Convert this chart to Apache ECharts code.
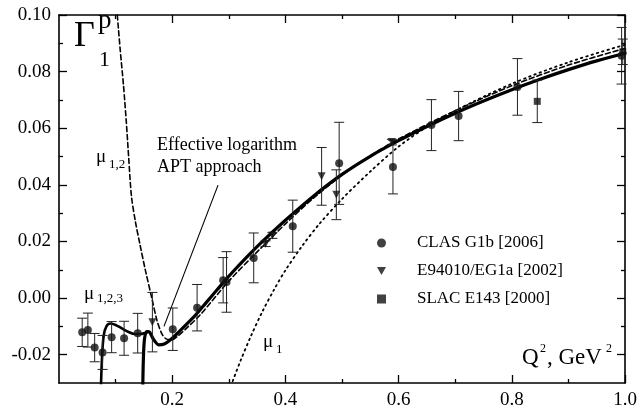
<!DOCTYPE html>
<html>
<head>
<meta charset="utf-8">
<script src="https://cdn.jsdelivr.net/npm/echarts@6/dist/echarts.min.js"></script>
<style>
  html, body { margin: 0; padding: 0; background: #fff; }
  #chart { width: 642px; height: 410px; }
</style>
</head>
<body>
<div id="chart"></div>
<script>
// tick positions
const xMajor = [0.2, 0.4, 0.6, 0.8, 1.0];
const xMinor = [0.1, 0.3, 0.5, 0.7, 0.9];
const yMajor = [-0.02, 0.00, 0.02, 0.04, 0.06, 0.08, 0.10];
const yMinor = [-0.01, 0.01, 0.03, 0.05, 0.07, 0.09];

// data points: [Q2, Gamma1p, error]
const clas = [
  [0.041, -0.0121, 0.0050], [0.051, -0.0113, 0.0060], [0.063, -0.0175, 0.0050],
  [0.077, -0.0192, 0.0060], [0.093, -0.0138, 0.0055], [0.115, -0.0142, 0.0060],
  [0.139, -0.0124, 0.0070], [0.201, -0.0110, 0.0075], [0.244, -0.0034, 0.0082],
  [0.290, 0.0063, 0.0080], [0.296, 0.0057, 0.0107], [0.344, 0.0142, 0.0088],
  [0.413, 0.0254, 0.0092], [0.495, 0.0476, 0.0145], [0.590, 0.0463, 0.0095],
  [0.658, 0.0611, 0.0090], [0.706, 0.0643, 0.0087], [0.810, 0.0746, 0.0100],
  [0.994, 0.0856, 0.0100]
];
const e94010 = [
  [0.165, -0.0085, 0.0105], [0.365, 0.0192, 0.0010], [0.377, 0.0221, 0.0010],
  [0.464, 0.0430, 0.0102], [0.490, 0.0365, 0.0088], [0.588, 0.0551, 0.0010]
];
const slacE143 = [
  [0.845, 0.0695, 0.0075], [0.996, 0.0870, 0.0045]
];

// theory curves
const curveLog = [
  [0.148, -0.032], [0.149, -0.022], [0.151, -0.0145], [0.155, -0.0118], [0.160, -0.0120],
  [0.167, -0.0146], [0.176, -0.0165], [0.186, -0.0162], [0.196, -0.0149], [0.208, -0.0127],
  [0.222, -0.0099], [0.240, -0.0063], [0.260, -0.0016], [0.280, 0.0031], [0.300, 0.0077],
  [0.330, 0.0141], [0.360, 0.0201], [0.400, 0.0275], [0.450, 0.0361], [0.500, 0.0437],
  [0.550, 0.0501], [0.600, 0.0556], [0.650, 0.0606], [0.700, 0.0653], [0.750, 0.0696],
  [0.800, 0.0736], [0.850, 0.0773], [0.900, 0.0807], [0.950, 0.0838], [1.000, 0.0865]
];
const curveMu123 = [
  [0.074, -0.032], [0.076, -0.021], [0.079, -0.0132], [0.084, -0.0099], [0.091, -0.0090],
  [0.100, -0.0095], [0.111, -0.0107], [0.123, -0.0120], [0.134, -0.0127], [0.144, -0.0127],
  [0.152, -0.0123], [0.158, -0.0119]
];
const curveMu12 = [
  [0.103, 0.100], [0.108, 0.088], [0.114, 0.075], [0.119, 0.062], [0.123, 0.050],
  [0.128, 0.036], [0.135, 0.027], [0.143, 0.019], [0.153, 0.0095], [0.164, 0.000],
  [0.173, -0.0078], [0.182, -0.0127], [0.190, -0.0145], [0.200, -0.0147], [0.210, -0.0134],
  [0.225, -0.0107], [0.250, -0.0058], [0.300, 0.0060], [0.350, 0.0163], [0.400, 0.0262],
  [0.450, 0.0354], [0.500, 0.0434], [0.550, 0.0503], [0.600, 0.0562], [0.700, 0.0662],
  [0.800, 0.0750], [0.900, 0.0823], [1.000, 0.0882]
];
const curveMu1 = [
  [0.300, -0.033], [0.320, -0.0225], [0.340, -0.0130], [0.360, -0.0045], [0.380, 0.0030],
  [0.400, 0.0098], [0.430, 0.0185], [0.460, 0.0262], [0.500, 0.0350], [0.550, 0.0447],
  [0.600, 0.0535], [0.650, 0.0605], [0.700, 0.0662], [0.800, 0.0757], [0.900, 0.0833],
  [1.000, 0.0895]
];
const pointerLine = [[0.281, 0.0399], [0.1855, -0.0100]];

const FONT = "'Liberation Serif', 'DejaVu Serif', serif";
const INK = '#000';

function errorBar(params, api) {
  const x = api.value(0), y = api.value(1), e = api.value(2);
  const hi = api.coord([x, y + e]);
  const lo = api.coord([x, y - e]);
  const w = 5;
  const style = { stroke: '#222', lineWidth: 1 };
  return {
    type: 'group',
    children: [
      { type: 'line', shape: { x1: hi[0], y1: hi[1], x2: lo[0], y2: lo[1] }, style: style },
      { type: 'line', shape: { x1: hi[0] - w, y1: hi[1], x2: hi[0] + w, y2: hi[1] }, style: style },
      { type: 'line', shape: { x1: lo[0] - w, y1: lo[1], x2: lo[0] + w, y2: lo[1] }, style: style }
    ]
  };
}

function xAxisDef(pos, ticks, len, withLine, withLabels) {
  return {
    type: 'value', position: pos, min: 0, max: 1.0,
    axisLine: { show: withLine, onZero: false, lineStyle: { color: INK, width: 1.6 } },
    axisTick: { show: true, inside: true, length: len, customValues: ticks, lineStyle: { color: INK, width: 1.3 } },
    axisLabel: {
      show: withLabels, customValues: ticks, margin: 8,
      fontFamily: FONT, fontSize: 19, color: INK,
      formatter: function (v) { return v.toFixed(1); }
    },
    splitLine: { show: false }
  };
}
function yAxisDef(pos, ticks, len, withLine, withLabels) {
  return {
    type: 'value', position: pos, min: -0.03, max: 0.10,
    axisLine: { show: withLine, onZero: false, lineStyle: { color: INK, width: 1.6 } },
    axisTick: { show: true, inside: true, length: len, customValues: ticks, lineStyle: { color: INK, width: 1.3 } },
    axisLabel: {
      show: withLabels, customValues: ticks, margin: 8,
      fontFamily: FONT, fontSize: 19, color: INK,
      formatter: function (v) { return v.toFixed(2); }
    },
    splitLine: { show: false }
  };
}

function curve(data, width, type) {
  return {
    type: 'line', data: data, xAxisIndex: 0, yAxisIndex: 0,
    showSymbol: false, symbol: 'none', smooth: 0.3,
    lineStyle: { color: INK, width: width, type: type, cap: 'round' },
    silent: true, z: 2
  };
}
function bars(data) {
  return {
    type: 'custom', data: data, renderItem: errorBar,
    xAxisIndex: 0, yAxisIndex: 0, encode: { x: 0, y: 1 }, silent: true, z: 3
  };
}
function points(name, data, symbol, size) {
  return {
    type: 'scatter', name: name, data: data, symbol: symbol, symbolSize: size,
    xAxisIndex: 0, yAxisIndex: 0, itemStyle: { color: '#111' }, z: 4
  };
}

const chart = echarts.init(document.getElementById('chart'));
const triDown = 'path://M0,0L10,0L5,9Z';

chart.setOption({
  animation: false,
  backgroundColor: '#fff',
  grid: { left: 59, right: 17, top: 15, bottom: 25 },
  xAxis: [
    xAxisDef('bottom', xMajor, 8, true, true),
    xAxisDef('bottom', xMinor, 4, false, false),
    xAxisDef('top', xMajor, 8, true, false),
    xAxisDef('top', xMinor, 4, false, false)
  ],
  yAxis: [
    yAxisDef('left', yMajor, 8, true, true),
    yAxisDef('left', yMinor, 4, false, false),
    yAxisDef('right', yMajor, 8, true, false),
    yAxisDef('right', yMinor, 4, false, false)
  ],
  legend: {
    data: ['CLAS G1b [2006]', 'E94010/EG1a [2002]', 'SLAC E143 [2000]'],
    orient: 'vertical', left: 372, top: 229,
    itemWidth: 9, itemHeight: 9, itemGap: 10,
    textStyle: { fontFamily: FONT, fontSize: 17, color: INK, lineHeight: 18, padding: [0, 0, 0, 26] }
  },
  series: [
    curve(curveMu1, 1.8, [1.5, 4]),
    curve(curveMu12, 1.6, [5, 3]),
    curve(curveMu123, 2.6, 'solid'),
    curve(curveLog, 3.2, 'solid'),
    {
      type: 'line', data: pointerLine, xAxisIndex: 0, yAxisIndex: 0,
      showSymbol: false, symbol: 'none', silent: true,
      lineStyle: { color: INK, width: 1.1 }
    },
    bars(clas), bars(e94010), bars(slacE143),
    points('CLAS G1b [2006]', clas, 'circle', 8),
    points('E94010/EG1a [2002]', e94010, triDown, 8),
    points('SLAC E143 [2000]', slacE143, 'rect', 7)
  ],
  graphic: [
    { type: 'text', left: 74, top: 19, style: { text: 'Γ', font: "36px " + FONT, fill: INK } },
    { type: 'text', left: 98, top: 7, style: { text: 'p', font: "27px " + FONT, fill: INK } },
    { type: 'text', left: 99, top: 49, style: { text: '1', font: "22px " + FONT, fill: INK } },
    { type: 'text', left: 96, top: 148, style: { text: 'μ', font: "19px " + FONT, fill: INK } },
    { type: 'text', left: 109, top: 158, style: { text: '1,2', font: "13px " + FONT, fill: INK } },
    { type: 'text', left: 84, top: 285, style: { text: 'μ', font: "19px " + FONT, fill: INK } },
    { type: 'text', left: 97, top: 292, style: { text: '1,2,3', font: "13px " + FONT, fill: INK } },
    { type: 'text', left: 263, top: 333, style: { text: 'μ', font: "19px " + FONT, fill: INK } },
    { type: 'text', left: 276, top: 343, style: { text: '1', font: "13px " + FONT, fill: INK } },
    { type: 'text', left: 157, top: 136, style: { text: 'Effective logarithm', font: "18px " + FONT, fill: INK } },
    { type: 'text', left: 157, top: 158, style: { text: 'APT approach', font: "18px " + FONT, fill: INK } },
    { type: 'text', left: 522, top: 346, style: { text: 'Q', font: "23px " + FONT, fill: INK } },
    { type: 'text', left: 540, top: 343, style: { text: '2', font: "12px " + FONT, fill: INK } },
    { type: 'text', left: 547, top: 346, style: { text: ', GeV', font: "23px " + FONT, fill: INK } },
    { type: 'text', left: 606, top: 343, style: { text: '2', font: "12px " + FONT, fill: INK } }
  ]
});
</script>
</body>
</html>
